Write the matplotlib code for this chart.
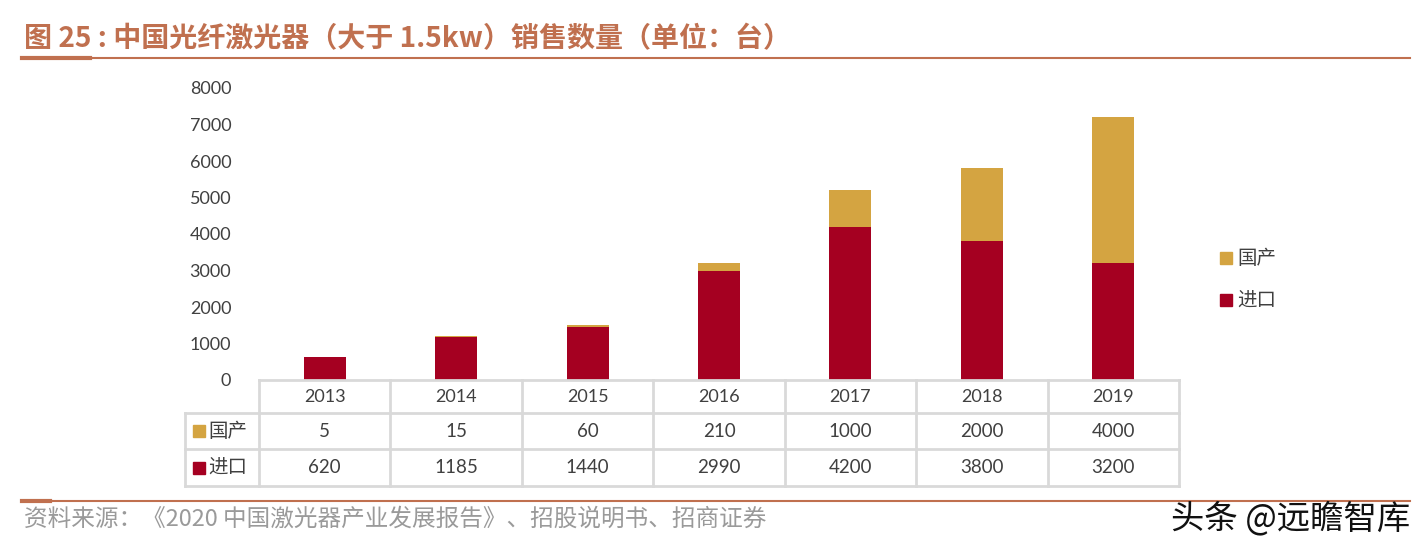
import numpy as np
import matplotlib.pyplot as plt
import matplotlib.transforms as mtransforms
from matplotlib.lines import Line2D

plt.rcParams['font.family'] = ['Lato', 'Noto Sans CJK SC', 'DejaVu Sans']

# data
years = ['2013', '2014', '2015', '2016', '2017', '2018', '2019']
domestic = [5, 15, 60, 210, 1000, 2000, 4000]      # 国产
imported = [620, 1185, 1440, 2990, 4200, 3800, 3200]  # 进口
yticks = [0, 1000, 2000, 3000, 4000, 5000, 6000, 7000, 8000]

c_imp = '#A50021'
c_dom = '#D4A441'
c_grid = '#D9D9D9'
c_title = '#C0704F'
c_text = '#404040'

W, H = 1428, 551
fig = plt.figure(figsize=(W / 100, H / 100), dpi=100)

def fx(px):
    return px / W

def fy(py):
    return 1 - py / H

ax = fig.add_axes([fx(259), fy(380), fx(1179) - fx(259), fy(88) - fy(380)])
x = np.arange(len(years))
ax.bar(x, imported, width=0.32, color=c_imp, label='进口')
ax.bar(x, domestic, width=0.32, bottom=imported, color=c_dom, label='国产')
ax.set_xlim(-0.5, len(years) - 0.5)
ax.set_ylim(0, 8000)
ax.set_yticks(yticks)
ax.set_yticklabels([str(v) for v in yticks], fontsize=13, color=c_text)
ax.tick_params(axis='y', length=0, pad=20)
ax.set_xticks([])
for s in ax.spines.values():
    s.set_visible(False)

# data table under the axes
trans = mtransforms.blended_transform_factory(ax.transData, ax.transAxes)
ah = 292.0
rows = [0, -33 / ah, -69 / ah, -106 / ah]
left_x = -0.5 - 74 / 131.4
kw = dict(color=c_grid, lw=2, transform=trans, clip_on=False)
for i in range(len(years) + 1):
    ax.add_line(Line2D([i - 0.5, i - 0.5], [rows[0], rows[3]], **kw))
ax.add_line(Line2D([left_x, left_x], [rows[1], rows[3]], **kw))
ax.add_line(Line2D([-0.5, len(years) - 0.5], [rows[0], rows[0]], **kw))
for r in rows[1:]:
    ax.add_line(Line2D([left_x, len(years) - 0.5], [r, r], **kw))

for i, yr in enumerate(years):
    ax.text(i, (rows[0] + rows[1]) / 2, yr, transform=trans, ha='center', va='center',
            fontsize=13, color=c_text)
    ax.text(i, (rows[1] + rows[2]) / 2, str(domestic[i]), transform=trans, ha='center',
            va='center', fontsize=13.5, color=c_text)
    ax.text(i, (rows[2] + rows[3]) / 2, str(imported[i]), transform=trans, ha='center',
            va='center', fontsize=13.5, color=c_text)

for (r0, r1), name, col in [((rows[1], rows[2]), '国产', c_dom), ((rows[2], rows[3]), '进口', c_imp)]:
    ym = (r0 + r1) / 2
    ax.plot([left_x + 0.11], [ym], marker='s', ms=9, color=col, transform=trans, clip_on=False)
    ax.text(left_x + 0.18, ym, name, transform=trans, ha='left', va='center',
            fontsize=14, color=c_text, family=['Noto Sans CJK SC'])

# legend
for py, name, col in [(258, '国产', c_dom), (300, '进口', c_imp)]:
    fig.add_artist(Line2D([fx(1226)], [fy(py)], marker='s', ms=9, color=col))
    fig.text(fx(1237), fy(py), name, ha='left', va='center', fontsize=14, color=c_text,
             family=['Noto Sans CJK SC'])

# title and rules
fig.text(fx(24), fy(39), '图 25 : 中国光纤激光器（大于 1.5kw）销售数量（单位：台）',
         ha='left', va='center', fontsize=20.2, fontweight='bold', color=c_title,
         family=['Noto Sans CJK SC', 'DejaVu Sans'])
fig.add_artist(Line2D([fx(22), fx(1410)], [fy(58), fy(58)], color=c_title, lw=1.5))
fig.add_artist(Line2D([fx(22), fx(90)], [fy(58), fy(58)], color=c_title, lw=3))
fig.add_artist(Line2D([fx(22), fx(1410)], [fy(501), fy(501)], color=c_title, lw=1.5))
fig.add_artist(Line2D([fx(22), fx(50)], [fy(501), fy(501)], color=c_title, lw=3))

fig.text(fx(24), fy(519), '资料来源：《2020 中国激光器产业发展报告》、招股说明书、招商证券',
         ha='left', va='center', fontsize=17, color='#9A9A9A',
         family=['Noto Sans CJK SC', 'DejaVu Sans'])
fig.text(fx(1410), fy(519), '头条 @远瞻智库', ha='right', va='center', fontsize=24,
         color='#111111', family=['Noto Sans CJK SC', 'DejaVu Sans'])

fig.savefig('out.png', dpi=100, facecolor='white')
